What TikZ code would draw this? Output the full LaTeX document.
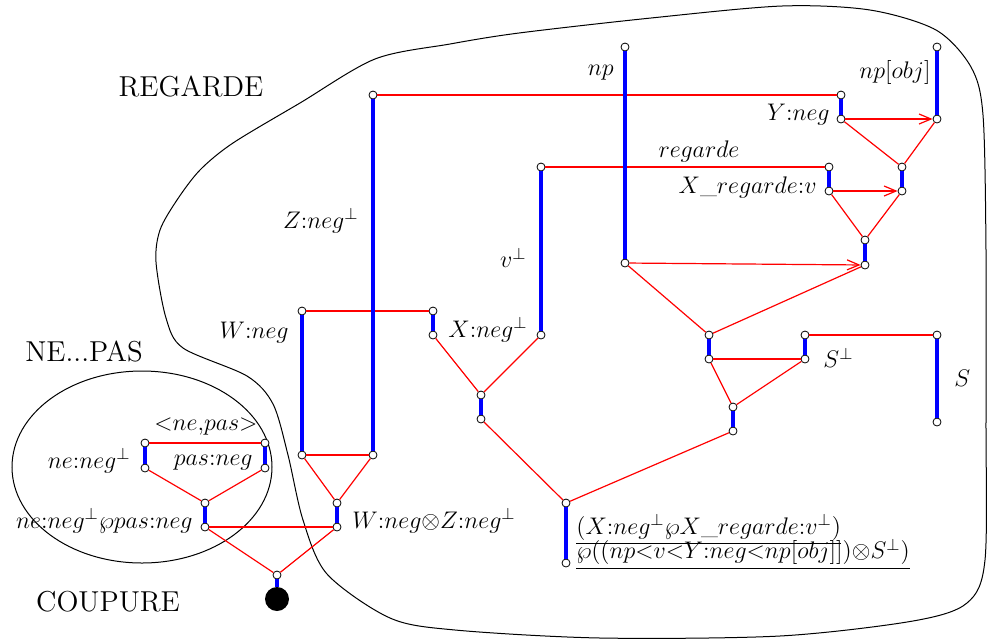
\documentclass[tikz,border=0pt]{standalone}
\usepackage{amsmath,amssymb}
\usetikzlibrary{arrows.meta}

\tikzset{
  port/.style={circle, draw, fill=white, inner sep=0pt, minimum size=4pt, line width=0.4pt},
  ax/.style={color=red, line width=0.6pt},
  arr/.style={color=red, line width=0.6pt, -{Straight Barb[length=6pt,width=5pt]}},
  lnk/.style={draw=blue, line width=2pt},
  lbl/.style={font=\fontsize{11.5}{14}\selectfont, inner sep=1pt},
  big/.style={font=\fontsize{14.4}{17}\selectfont}
}

\begin{document}
\begin{tikzpicture}[x=0.5pt,y=-0.5pt]
    \useasboundingbox (0,0) rectangle (987,639);

    % Outline of the REGARDE part
    \draw[line width=0.5pt] plot[smooth cycle, tension=0.5] coordinates {
      (156,262) (160,230) (177,200) (200,170) (233,143) (300,103) (375,59)
      (450,44) (519,33) (651,18) (782,6) (870,10) (936,30) (971,67)
      (983,115) (986,250) (986,420) (985,560) (967,603) (913,621) (780,636)
      (600,638) (455,630) (390,618) (327,574) (303,520) (288,455) (273,404)
      (247,376) (183,348) (166,318)};

    % Outline of the NE...PAS part
    \draw[line width=0.5pt] (142,467) ellipse [x radius=130, y radius=96];

    \node[big] (regarde) at (191,87) {REGARDE};
    \node[big] (nepas) at (84,352) {NE...PAS};
    \node[big] (coupure) at (108,602) {COUPURE};

    % NE...PAS graph
    \node[port] (ne1) at (145,443) {};
    \node[port] (ne2) at (145,468) {};
    \node[port] (pas1) at (265,443) {};
    \node[port] (pas2) at (265,468) {};
    \node[port] (par1) at (205,503) {};
    \node[port] (par2) at (205,527) {};

    \node[lbl, anchor=east] (lne) at (133,461) {$ne{:}neg^{\perp}$};
    \node[lbl, anchor=east] (lpas) at (255,463) {$pas{:}neg$};
    \node[lbl] (lnepas) at (206,427) {${<}ne{,}pas{>}$};
    \node[lbl, anchor=east] (lpar) at (195,521) {$ne{:}neg^{\perp}\wp pas{:}neg$};

    % cut
    \node[port] (cut1) at (277,575) {};
    \node[circle, fill=black, inner sep=0pt, minimum size=12pt] (cut2) at (277,599) {};

    % REGARDE graph
    \node[port] (W1) at (302,311) {};
    \node[port] (W2) at (302,455) {};
    \node[port] (Z1) at (373,95) {};
    \node[port] (Z2) at (373,455) {};
    \node[port] (T1) at (337,503) {};
    \node[port] (T2) at (337,527) {};
    \node[port] (X1) at (433,311) {};
    \node[port] (X2) at (433,335) {};
    \node[port] (v1) at (541,167) {};
    \node[port] (v2) at (541,335) {};
    \node[port] (E1) at (481,395) {};
    \node[port] (E2) at (481,419) {};
    \node[port] (F1) at (566,503) {};
    \node[port] (F2) at (566,563) {};
    \node[port] (np1) at (625,47) {};
    \node[port] (np2) at (625,263) {};
    \node[port] (Y1) at (841,95) {};
    \node[port] (Y2) at (841,119) {};
    \node[port] (obj1) at (937,47) {};
    \node[port] (obj2) at (937,119) {};
    \node[port] (R1) at (829,167) {};
    \node[port] (R2) at (829,191) {};
    \node[port] (A1) at (902,167) {};
    \node[port] (A2) at (902,191) {};
    \node[port] (B1) at (865,240) {};
    \node[port] (B2) at (865,265) {};
    \node[port] (C1) at (709,335) {};
    \node[port] (C2) at (709,359) {};
    \node[port] (Sp1) at (805,335) {};
    \node[port] (Sp2) at (805,359) {};
    \node[port] (S1) at (937,335) {};
    \node[port] (S2) at (937,422) {};
    \node[port] (D1) at (733,407) {};
    \node[port] (D2) at (733,431) {};

    \node[lbl, anchor=east] (lZ) at (361,221) {$Z{:}neg^{\perp}$};
    \node[lbl, anchor=east] (lW) at (291,333) {$W{:}neg$};
    \node[lbl, anchor=west] (lT) at (350,521) {$W{:}neg{\otimes}Z{:}neg^{\perp}$};
    \node[lbl, anchor=west] (lX) at (446,330) {$X{:}neg^{\perp}$};
    \node[lbl, anchor=east] (lv) at (529,258) {$v^{\perp}$};
    \node[lbl, anchor=east] (lnp) at (616,73) {$np$};
    \node[lbl, anchor=east] (lobj) at (933,72) {$np[obj]$};
    \node[lbl, anchor=east] (lY) at (832,115) {$Y{:}neg$};
    \node[lbl] (lreg) at (699,151) {$regarde$};
    \node[lbl, anchor=west] (lSp) at (821,358) {$S^{\perp}$};
    \node[lbl, anchor=east] (lR) at (819,187) {$X\_regarde{:}v$};
    \node[lbl, anchor=west] (lS) at (952,378) {$S$};
    \node[lbl, anchor=west, align=left] (lF) at (574,542)
      {$\underline{(X{:}neg^{\perp}\wp X\_regarde{:}v^{\perp})}$\\[-4pt]
       $\underline{\wp((np{<}v{<}Y{:}neg{<}np[obj]]){\otimes}S^{\perp})}$};

    % axiom and tree wires
    \draw[ax] (ne1) -- (pas1);
    \draw[ax] (ne2) -- (par1);
    \draw[ax] (pas2) -- (par1);
    \draw[ax] (par2) -- (T2);
    \draw[ax] (par2) -- (cut1);
    \draw[ax] (T2) -- (cut1);
    \draw[ax] (W2) -- (Z2);
    \draw[ax] (W2) -- (T1);
    \draw[ax] (Z2) -- (T1);
    \draw[ax] (W1) -- (X1);
    \draw[ax] (Z1) -- (Y1);
    \draw[ax] (v1) -- (R1);
    \draw[ax] (X2) -- (E1);
    \draw[ax] (v2) -- (E1);
    \draw[ax] (E2) -- (F1);
    \draw[ax] (D2) -- (F1);
    \draw[ax] (Y2) -- (A1);
    \draw[ax] (obj2) -- (A1);
    \draw[ax] (R2) -- (B1);
    \draw[ax] (A2) -- (B1);
    \draw[ax] (np2) -- (C1);
    \draw[ax] (B2) -- (C1);
    \draw[ax] (C2) -- (Sp2);
    \draw[ax] (Sp1) -- (S1);
    \draw[ax] (C2) -- (D1);
    \draw[ax] (Sp2) -- (D1);

    \draw[arr] (Y2) -- (obj2);
    \draw[arr] (R2) -- (A2);
    \draw[arr] (np2) -- (B2);

    % links
    \draw[lnk] (ne1) -- (ne2);
    \draw[lnk] (pas1) -- (pas2);
    \draw[lnk] (par1) -- (par2);
    \draw[lnk] (cut1) -- (cut2);
    \draw[lnk] (W1) -- (W2);
    \draw[lnk] (Z1) -- (Z2);
    \draw[lnk] (T1) -- (T2);
    \draw[lnk] (X1) -- (X2);
    \draw[lnk] (v1) -- (v2);
    \draw[lnk] (E1) -- (E2);
    \draw[lnk] (F1) -- (F2);
    \draw[lnk] (np1) -- (np2);
    \draw[lnk] (Y1) -- (Y2);
    \draw[lnk] (obj1) -- (obj2);
    \draw[lnk] (R1) -- (R2);
    \draw[lnk] (A1) -- (A2);
    \draw[lnk] (B1) -- (B2);
    \draw[lnk] (C1) -- (C2);
    \draw[lnk] (Sp1) -- (Sp2);
    \draw[lnk] (S1) -- (S2);
    \draw[lnk] (D1) -- (D2);

\end{tikzpicture}
\end{document}
